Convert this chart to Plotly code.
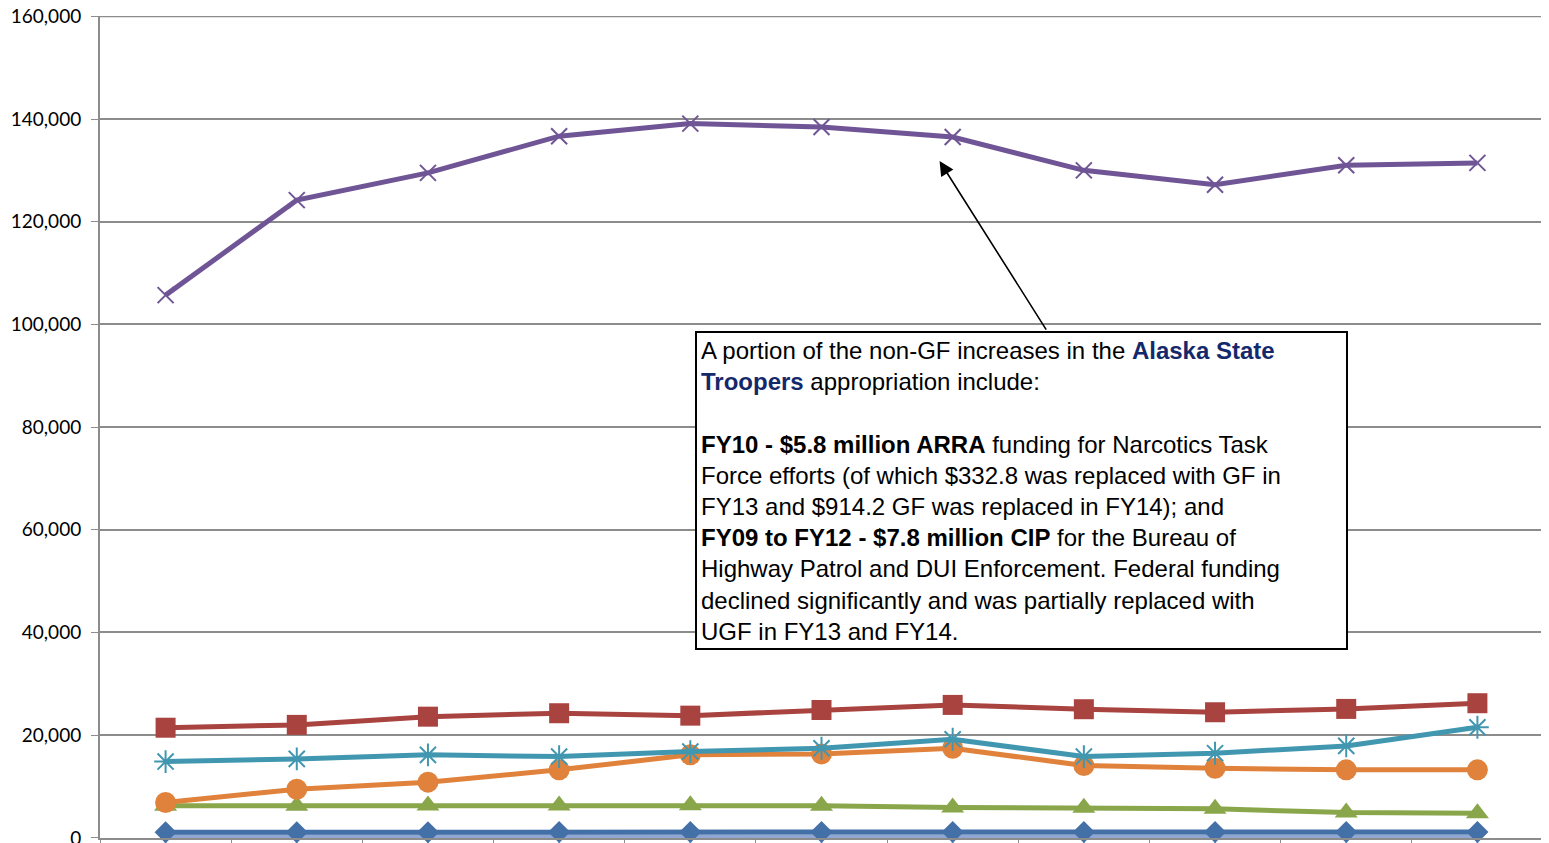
import plotly.graph_objects as go

categories = ["FY04", "FY05", "FY06", "FY07", "FY08", "FY09", "FY10", "FY11", "FY12", "FY13", "FY14"]

troopers = [105700, 124200, 129500, 136650, 139100, 138450, 136500, 130000, 127200, 131000, 131450]
red_series = [21450, 22000, 23600, 24270, 23800, 24900, 25890, 25050, 24460, 25110, 26220]
teal_series = [14860, 15380, 16160, 15830, 16800, 17450, 19200, 15830, 16480, 17910, 21540]
orange_series = [6880, 9470, 10840, 13240, 16160, 16350, 17450, 14080, 13560, 13240, 13240]
green_series = [6230, 6230, 6290, 6290, 6350, 6230, 5900, 5840, 5650, 4930, 4800]
blue_series = [1100, 1100, 1100, 1150, 1150, 1150, 1150, 1150, 1150, 1150, 1150]
light_series = [0, 0, 0, 0, 0, 0, 0, 0, 0, 0, 0]
y_ticks = [0, 20000, 40000, 60000, 80000, 100000, 120000, 140000, 160000]
y_tick_text = ["0", "20,000", "40,000", "60,000", "80,000", "100,000", "120,000", "140,000", "160,000"]

fig = go.Figure()

def add(vals, color, symbol, size, lw=5, mline=0, mcolor=None):
    fig.add_trace(go.Scatter(
        x=categories, y=vals, mode="lines+markers",
        line=dict(color=color, width=lw),
        marker=dict(symbol=symbol, size=size, color=mcolor or color,
                    line=dict(width=mline, color=mcolor or color)),
        cliponaxis=False, showlegend=False, hoverinfo="skip"))

add(light_series, "#8FA7D1", "line-ns-open", 14, lw=7, mline=2)
add(blue_series, "#4470A8", "diamond", 17)
add(green_series, "#8AA64B", "triangle-up", 20)
add(orange_series, "#E0823B", "circle", 21)
add(teal_series, "#4197B0", "asterisk-open", 19, mline=2)
add(red_series, "#A9433F", "square", 20)
add(troopers, "#6F5595", "x-thin-open", 16, mline=2)

grid = "#8C8C8C"
fig.update_layout(
    width=1541, height=835,
    margin=dict(l=92, r=6, t=8, b=5),
    paper_bgcolor="white", plot_bgcolor="white",
    xaxis=dict(type="category", showticklabels=False, showgrid=False,
               showline=True, linecolor=grid, linewidth=2,
               ticks="outside", tickson="boundaries", ticklen=6, tickcolor=grid,
               range=[-0.5, 10.5], automargin=False),
    yaxis=dict(range=[-30, 160060], tickmode="array", tickvals=y_ticks, ticktext=y_tick_text,
               showgrid=True, gridcolor=grid, gridwidth=2,
               showline=True, linecolor=grid, linewidth=2,
               ticks="outside", ticklen=7, tickcolor=grid,
               ticklabeloverflow="allow", ticklabelstandoff=6,
               tickfont=dict(family="Lato, Carlito, Calibri, sans-serif", size=19, color="black"),
               zeroline=False, automargin=False),
)

# top gridline (plot-area border at the maximum tick)
fig.add_shape(type="line", xref="paper", yref="y", x0=0, x1=1, y0=160000, y1=160000,
              line=dict(color=grid, width=2), layer="below")

# arrow
fig.add_annotation(x=5.90, y=131800, xref="x", yref="y",
                   ax=6.72, ay=98700, axref="x", ayref="y",
                   text="", showarrow=True, arrowhead=2, arrowsize=1.8,
                   arrowwidth=1.6, arrowcolor="black")

box_text = (
    "A portion of the non-GF increases in the <b><span style='color:#14296B'>Alaska State</span></b><br>"
    "<b><span style='color:#14296B'>Troopers</span></b> appropriation include:<br>"
    "<br>"
    "<b>FY10 - $5.8 million ARRA</b> funding for Narcotics Task<br>"
    "Force efforts (of which $332.8 was replaced with GF in<br>"
    "FY13 and $914.2 GF was replaced in FY14); and<br>"
    "<b>FY09 to FY12 - $7.8 million CIP</b> for the Bureau of<br>"
    "Highway Patrol and DUI Enforcement. Federal funding<br>"
    "declined significantly and was partially replaced with<br>"
    "UGF in FY13 and FY14."
)
fig.add_annotation(x=4.035, y=98700, xref="x", yref="y",
                   xanchor="left", yanchor="top", showarrow=False,
                   text=box_text, align="left", valign="top",
                   width=641, height=307,
                   font=dict(family="Liberation Sans, Arial, sans-serif", size=24, color="black"),
                   bgcolor="white", bordercolor="black", borderwidth=2, borderpad=4)

fig.write_html("out.html")
